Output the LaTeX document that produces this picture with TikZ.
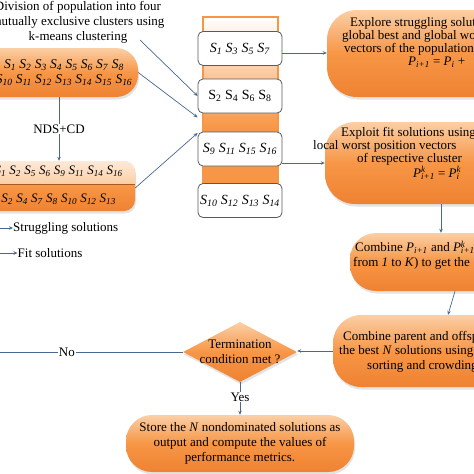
\documentclass[tikz,border=0pt]{standalone}
\usepackage{fontspec}
\setmainfont{Liberation Serif}
\usetikzlibrary{shapes.geometric,arrows.meta,shadows}
\definecolor{orgM}{HTML}{F79646}
\definecolor{orgL}{HTML}{FBCFA6}
\definecolor{orgD}{HTML}{EE8232}
\definecolor{lnc}{HTML}{4A6890}
\definecolor{bxc}{HTML}{5A5A5A}
\newcommand\Si[1]{\textit{S}\textsubscript{\textit{#1}}}
\newcommand\Su[1]{S\textsubscript{#1}}
\newcommand\Pk[1]{\textit{P}\rlap{\textsuperscript{\textit{k}}}\textsubscript{\textit{#1}}}
\newcommand\Pp[1]{\textit{P}\textsubscript{\textit{#1}}}
\begin{document}
\begin{tikzpicture}[x=1pt,y=-1pt,
  every node/.style={font=\fontsize{13}{15}\selectfont},
  conn/.style={draw=lnc, line width=0.7pt, -{Stealth[length=4pt,width=3.5pt]}},
  plainln/.style={draw=lnc, line width=0.7pt},
  obox/.style={top color=orgL, bottom color=orgD, middle color=orgM, inner sep=0pt,
     drop shadow={opacity=0.22, shadow xshift=1pt, shadow yshift=-2.5pt}},
  mbox/.style={draw=bxc, fill=white, rounded corners=5pt, line width=0.8pt,
     minimum width=84pt, minimum height=34pt, inner sep=1pt, font=\fontsize{14}{16}\selectfont},
  lbl/.style={fill=white, inner sep=1pt},
  ltext/.style={anchor=west, inner sep=0pt},
  blk/.style={anchor=west, align=left, inner sep=0pt}]
\useasboundingbox (0,0) rectangle (474,474);
\clip (0,0) rectangle (474,474);

% top-left caption
\node[align=center, inner sep=0pt] (divtext) at (78,22.5)
  {Division of population into four\\mutually exclusive clusters using\\k-means clustering};
\coordinate (divs) at (140,40);

% pill 1
\node[obox, rounded corners=22pt, minimum width=198pt, minimum height=49pt] (pill1) at (39,72.5) {};
\node[align=center, inner sep=0pt, font=\fontsize{13.5}{15}\selectfont] (poptext) at (64,72.5)
  {\Si1 \Si2 \Si3 \Si4 \Si5 \Si6 \Si7 \Si8\\ \Si{10} \Si{11} \Si{12} \Si{13} \Si{14} \Si{15} \Si{16}};

% pill 2 (two halves)
\node[obox, rounded corners=11pt, minimum width=195pt, minimum height=50pt] (pill2) at (37.5,186) {};
\begin{scope}
  \clip[rounded corners=11pt] (-60,161) rectangle (135,211);
  \shade[top color=orgL!45!white, bottom color=orgL] (-60,161) rectangle (135,184);
  \draw[orgD!70!black, line width=0.6pt] (-60,184) -- (135,184);
\end{scope}
\node[anchor=east, inner sep=0pt] (fitset) at (123,171)
  {\Si1 \Si2 \Si5 \Si6 \Si9 \Si{11} \Si{14} \Si{16}};
\node[anchor=east, inner sep=0pt] (strset) at (116,199)
  {\Si2 \Si4 \Si7 \Si8 \Si{10} \Si{12} \Si{13}};

\coordinate (ndsx) at (59,0);
\draw[conn] (pill1.south -| ndsx) -- node[lbl] (nds) {NDS+CD} (pill2.north -| ndsx);

% legend
\coordinate (l1a) at (-2,228);
\node[ltext] (l1t) at (13,228) {Struggling solutions};
\draw[conn] (l1a) -- (l1t.west);
\coordinate (l2a) at (-2,253);
\node[ltext] (l2t) at (17.5,253) {Fit solutions};
\draw[conn] (l2a) -- (l2t.west);

% middle strip
\shade[top color=white, bottom color=orgM] (203,17) rectangle (278,128);
\fill[orgM] (203,128) rectangle (278,205);
\draw[orgM, line width=1.5pt] (203,205) -- (203,17) -- (278,17) -- (278,205);
\node[mbox] (b1) at (240,48.5) {\Si1 \Si3 \Si5 \Si7};
\node[mbox] (b2) at (240,96) {\Su2 \Su4 \Su6 \Su8};
\node[mbox] (b3) at (240,149) {\Si9 \Si{11} \Si{15} \Si{16}};
\node[mbox] (b4) at (240,200.5) {\Si{10} \Si{12} \Si{13} \Si{14}};

\draw[conn] (divs) -- (b2.west);
\draw[conn] (pill1.east) -- ([yshift=-4pt]b2.south west);
\draw[conn] ([yshift=-2pt]pill2.east) -- ([yshift=16pt]b3.west);

% right column
\node[obox, rounded corners=30pt, minimum width=233pt, minimum height=87pt] (expl) at (443.5,53.5) {};
\node[blk, font=\fontsize{13}{13}\selectfont] (ext) at (342,42.5)
  {\hspace*{8pt}Explore struggling solutions\\
   global best and global worst\\
   \hspace*{2pt}vectors of the population\\
   \hspace*{66pt}\Pp{i+1} = \Pp{i} +};

\node[obox, rounded corners=30pt, minimum width=235pt, minimum height=82pt] (expt) at (442.5,163) {};
\node[blk, font=\fontsize{13}{13.3}\selectfont] (ett) at (313,153)
  {\hspace*{28pt}Exploit fit solutions using\\
   local worst position vectors\\
   \hspace*{44pt}of respective cluster\\
   \hspace*{100pt}\Pk{i+1} = \Pk{i}};

\node[obox, rounded corners=26pt, minimum width=210pt, minimum height=58pt] (cp) at (455,262) {};
\node[blk] (cpt) at (353,255)
  {\hspace*{2pt}Combine \Pp{i+1} and \Pk{i+1}\\
   from \textit{1} to \textit{K}) to get the};

\node[obox, rounded corners=28pt, minimum width=227pt, minimum height=72pt] (cpar) at (446.5,351) {};
\node[blk, font=\fontsize{13}{14.5}\selectfont] (cqt) at (339,351.5)
  {\hspace*{4pt}Combine parent and offspring\\
   the best \textit{N} solutions using\\
   \hspace*{28pt}sorting and crowding};

\draw[conn] ([yshift=-4.5pt]b1.east) -- ([yshift=-4.5pt]b1.east -| expl.west);
\draw[conn] ([yshift=-14pt]b3.east) -- (expt.west);
\draw[conn] ([xshift=-1.5pt]expt.south) -- ([xshift=-1.5pt]expt.south |- cp.north);
\draw[conn] (cp.south) -- ([xshift=1.5pt]cpar.north);

% decision
\node[diamond, aspect=1.9, minimum width=114pt, minimum height=60pt, inner sep=0pt,
  top color=orgL, bottom color=orgD, middle color=orgM,
  drop shadow={opacity=0.22, shadow xshift=1pt, shadow yshift=-2.5pt}] (dia) at (240,352) {};
\node[align=center, inner sep=0pt] (diat) at (240,351.5)
  {Termination\\condition met ?};
\draw[conn] (cpar.west) -- (cpar.west -| dia.east);
\coordinate (noend) at (-5,352);
\draw[plainln] (dia.west) -- node[lbl, pos=0.617] (no) {No} (noend);

% store
\node[obox, rounded corners=26pt, minimum width=228pt, minimum height=57pt] (store) at (240,443.5) {};
\node[align=center, inner sep=0pt] (storet) at (240,443)
  {Store the \textit{N} nondominated solutions as\\output and compute the values of\\performance metrics.};
\draw[conn] (dia.south) -- node[lbl, pos=0.45] (yes) {Yes} (store.north);
\end{tikzpicture}
\end{document}
